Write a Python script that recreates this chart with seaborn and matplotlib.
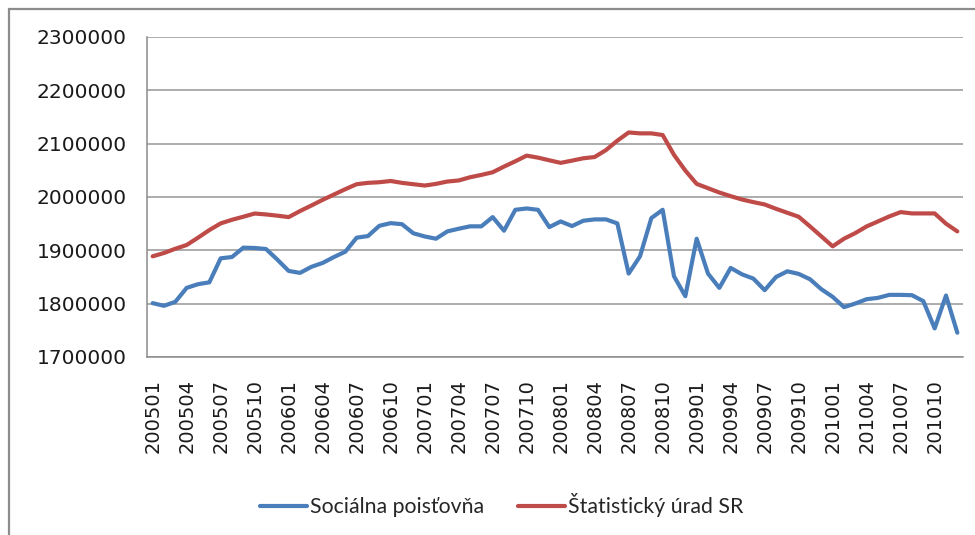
import matplotlib
matplotlib.use("Agg")
import matplotlib.pyplot as plt
import matplotlib.patches as patches
import seaborn as sns
import pandas as pd
import numpy as np

months = [f"{y}{m:02d}" for y in range(2005, 2011) for m in range(1, 13)]

socialna = [
    1801000, 1796000, 1803500, 1829600, 1836500, 1840000, 1885000, 1887500, 1905000, 1904400, 1902500, 1882600,
    1861400, 1857700, 1869000, 1876400, 1887500, 1897500, 1923700, 1926800, 1946000, 1951000, 1949000, 1932000,
    1926000, 1921800, 1935500, 1940500, 1945000, 1945000, 1962300, 1936800, 1976000, 1978500, 1976000, 1943600,
    1954200, 1945500, 1955500, 1958000, 1958000, 1950500, 1856400, 1888800, 1960400, 1976000, 1851400, 1814000,
    1921800, 1856400, 1829600, 1867000, 1855000, 1847000, 1825300, 1850000, 1860700, 1855800, 1845800, 1827100,
    1812800, 1793500, 1800300, 1808400, 1810900, 1816500, 1816500, 1815900, 1804700, 1753600, 1815300, 1745500,
]

statisticky = [
    1888800, 1895000, 1903000, 1910000, 1923700, 1938000, 1950500, 1957300, 1963000, 1969000, 1967300, 1965000,
    1962300, 1973600, 1984000, 1994700, 2004700, 2014700, 2024000, 2026500, 2027700, 2030000, 2026500, 2024000,
    2021500, 2024600, 2029000, 2031000, 2037000, 2041400, 2046400, 2057000, 2067000, 2077600, 2073800, 2068800,
    2064000, 2068200, 2072600, 2075000, 2088000, 2105600, 2121000, 2119300, 2119300, 2116200, 2079000, 2049500,
    2024600, 2016500, 2008400, 2001600, 1995300, 1990400, 1986000, 1977900, 1970400, 1963000, 1944900, 1926200,
    1907500, 1921800, 1932400, 1944900, 1954200, 1963600, 1971700, 1969200, 1969200, 1969200, 1950000, 1935500,
]

series_names = ["Sociálna poisťovňa", "Štatistický úrad SR"]
colors = ["#4A7EBB", "#BE4B48"]
y_ticks = [1700000, 1800000, 1900000, 2000000, 2100000, 2200000, 2300000]

n = len(months)
df = pd.DataFrame({
    "idx": list(range(n)) * 2,
    "value": socialna + statisticky,
    "series": [series_names[0]] * n + [series_names[1]] * n,
})

sns.set_theme(style="white")
plt.rcParams["font.family"] = ["DejaVu Sans"]

fig = plt.figure(figsize=(9.75, 5.35), dpi=100)
ax = fig.add_axes([147 / 975, 1 - 357 / 535, (963 - 147) / 975, (357 - 37) / 535])

sns.lineplot(data=df, x="idx", y="value", hue="series", palette=colors,
             linewidth=3.0, ax=ax, legend=False)

ax.set_xlim(-0.5, n - 0.5)
ax.set_ylim(y_ticks[0], y_ticks[-1])
ax.set_yticks(y_ticks)
ax.set_yticklabels([str(v) for v in y_ticks], fontsize=14.5, color="#1a1a1a")
ax.yaxis.grid(True, color="#a6a6a6", linewidth=1.3)
ax.set_axisbelow(True)

major = list(range(0, n, 3))
ax.set_xticks(major)
ax.set_xticklabels([months[i] for i in major], rotation=90, fontsize=14, color="#1a1a1a")
ax.set_xticks(np.arange(-0.5, n, 1.0), minor=True)
ax.tick_params(axis="x", which="major", length=0, pad=16)
ax.tick_params(axis="x", which="minor", length=4.5, width=1, color="#8c8c8c", direction="out")
ax.tick_params(axis="y", which="major", length=6.5, width=1, color="#8c8c8c", direction="out", pad=8)
ax.set_xlabel("")
ax.set_ylabel("")

for s in ["top", "right"]:
    ax.spines[s].set_visible(False)
for s in ["left", "bottom"]:
    ax.spines[s].set_color("#8c8c8c")
    ax.spines[s].set_linewidth(1.1)

handles = [plt.Line2D([], [], color=c, linewidth=3.0) for c in colors]
fig.legend(handles, series_names, loc="center", bbox_to_anchor=(502 / 975, 1 - 505 / 535),
           ncol=2, frameon=False, handlelength=2.2, handletextpad=0.15, columnspacing=1.6,
           prop={"family": ["Lato", "DejaVu Sans"], "size": 15.3})

frame = patches.Rectangle((9 / 975, -0.2), 1.5, (1 - 9 / 535) + 0.2, transform=fig.transFigure,
                          fill=False, edgecolor="#8c8c8c", linewidth=1.6, clip_on=False)
fig.patches.append(frame)

fig.savefig("out.png", dpi=100, facecolor="white")
